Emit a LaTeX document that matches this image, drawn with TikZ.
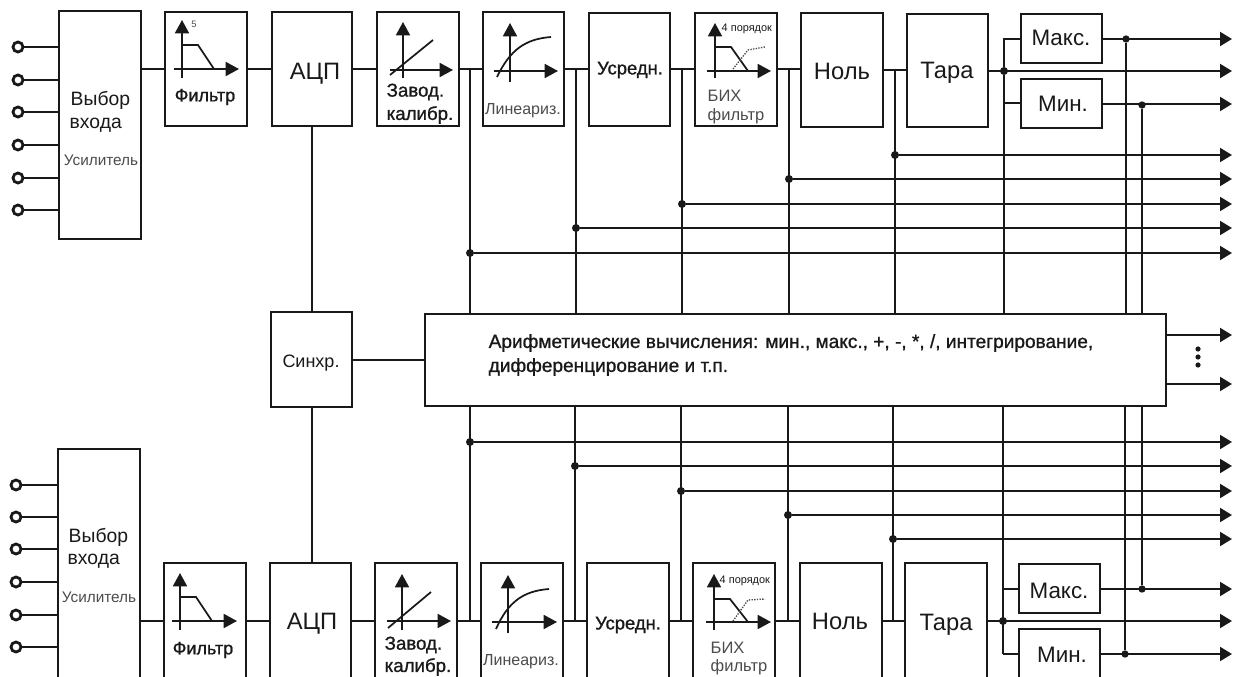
\documentclass[tikz,border=0pt]{standalone}
\usepackage{fontspec}
\setmainfont{Liberation Sans}
\newfontfamily\semib[FakeBold=1]{Liberation Sans}
\usetikzlibrary{arrows.meta,fit,calc}
\newcommand\fs[1]{\fontsize{#1}{#1}\selectfont}
\definecolor{ink}{gray}{0.1}
\definecolor{soft}{gray}{0.3}
\tikzset{
  blk/.style={draw=ink,line width=1.6pt,inner sep=0pt,fill=white},
  wire/.style={draw=ink,line width=1.5pt},
  outarrow/.style={wire,-{Triangle[length=9pt,width=10.5pt]}},
  axisarrow/.style={draw=ink,line width=1.3pt,-{Triangle[length=10pt,width=10.5pt]}},
  curveline/.style={draw=ink,line width=1.3pt},
  dotc/.style={draw=soft,line width=1pt,densely dotted},
  termc/.style={circle,draw=ink,line width=2.1pt,fill=white,minimum size=7.5pt,inner sep=0pt},
  jn/.style={circle,fill=ink,minimum size=6pt,inner sep=0pt},
  lbig/.style={text=ink,font=\fs{17.8}},
  lmid/.style={text=ink,font=\fs{16.8}},
  lsel/.style={text=ink,font=\fs{14.5},anchor=west},
  lgrey/.style={text=soft,font=\fs{11.5}},
  llin/.style={text=soft,font=\fs{12}},
  lbih/.style={text=soft,font=\fs{12.4},anchor=west},
  lord/.style={text=ink,font=\fs{8.2},anchor=west},
  lfil/.style={text=ink,font=\semib\fs{13.5}},
  lcal/.style={text=ink,font=\semib\fs{14}},
  lavg/.style={text=ink,font=\semib\fs{13.8}},
  lari/.style={text=ink,font=\semib\fs{14.3},anchor=west},
}
\begin{document}
\begin{tikzpicture}[x=0.75pt,y=-0.75pt]
\useasboundingbox (0,0) rectangle (1234,677);
% ---------- boxes, top row
\node[blk,fit={(59,11)(141,239)}] (v1) {};
\node[blk,fit={(165,12)(247,126)}] (f1) {};
\node[blk,fit={(272,12)(352,126)}] (a1) {};
\node[blk,fit={(377,12)(459,126)}] (z1) {};
\node[blk,fit={(483,12)(564,126)}] (l1) {};
\node[blk,fit={(589,13)(670,126)}] (u1) {};
\node[blk,fit={(695,13)(777,126)}] (b1) {};
\node[blk,fit={(801,13)(883,127)}] (n1) {};
\node[blk,fit={(907,14)(988,127)}] (t1) {};
\node[blk,fit={(1021,14)(1102,63)}] (mx1) {};
\node[blk,fit={(1021,79)(1102,128)}] (mn1) {};
% ---------- boxes, bottom row
\node[blk,fit={(58,449)(140,679)}] (v2) {};
\node[blk,fit={(164,563)(246,679)}] (f2) {};
\node[blk,fit={(270,563)(351,679)}] (a2) {};
\node[blk,fit={(375,563)(457,679)}] (z2) {};
\node[blk,fit={(481,563)(563,679)}] (l2) {};
\node[blk,fit={(587,563)(669,679)}] (u2) {};
\node[blk,fit={(693,563)(775,679)}] (b2) {};
\node[blk,fit={(800,563)(882,679)}] (n2) {};
\node[blk,fit={(905,563)(987,679)}] (t2) {};
\node[blk,fit={(1019,564)(1100,613)}] (mx2) {};
\node[blk,fit={(1019,629)(1100,679)}] (mn2) {};
% ---------- middle
\node[blk,fit={(271,312)(352,407)}] (s) {};
\node[blk,fit={(425,314)(1166,406)}] (ar) {};
% ---------- input terminals
\foreach \i/\y in {1/47,2/80,3/112,4/145,5/178,6/210}{
  \draw[wire] (18,\y) -- (v1.west |- 18,\y);
  \node[termc] (c1\i) at (18,\y) {};
}
\foreach \i/\y in {1/485,2/517,3/549,4/582,5/615,6/647}{
  \draw[wire] (16,\y) -- (v2.west |- 16,\y);
  \node[termc] (c2\i) at (16,\y) {};
}
% ---------- chains
\draw[wire] (v1.east |- f1.west) -- (f1.west);
\draw[wire] (v2.east |- f2.west) -- (f2.west);
\foreach \p/\q in {f1/a1,a1/z1,z1/l1,l1/u1,u1/b1,b1/n1,n1/t1,f2/a2,a2/z2,z2/l2,l2/u2,u2/b2,b2/n2,n2/t2}
  \draw[wire] (\p.east) -- (\p.east -| \q.west);
% ---------- ADC / sync / arithmetic
\draw[wire] (a1.south) -- (s.north -| a1.south);
\draw[wire] (s.south) -- (a2.north -| s.south);
\draw[wire] (s.east) -- (ar.west |- s.east);
% ---------- free ends on the right
\foreach \n/\y in {a/39,b/71,c/104,d/155,e/179,f/204,g/228,h/253,i/335,j/384,k/442,l/466,m/491,n/515,o/539,p/589,q/621,r/654}
  \coordinate (out\n) at (1232,\y);
% ---------- top taps
\foreach \n/\x/\y/\o in {1/470/253/h,2/576/228/g,3/682/204/f,4/789/179/e,5/895/155/d}{
  \coordinate (tt\n) at (\x,69);
  \draw[wire] (tt\n) -- (ar.north -| tt\n);
  \node[jn] (tj\n) at (\x,\y) {};
  \draw[outarrow] (tj\n) -- (out\o);
}
% ---------- bottom taps
\foreach \n/\x/\y/\o in {1/470/442/k,2/575/466/l,3/681/491/m,4/788/515/n,5/893/539/o}{
  \coordinate (bt\n) at (\x,621);
  \draw[wire] (ar.south -| bt\n) -- (bt\n);
  \node[jn] (bj\n) at (\x,\y) {};
  \draw[outarrow] (bj\n) -- (out\o);
}
% ---------- tara, top
\node[jn] (jt) at (1004,71) {};
\draw[outarrow] (t1.east |- jt) -- (outb);
\draw[wire] (mx1.west |- outa) -| (jt);
\draw[wire] (mn1.west -| jt) -- (mn1.west);
\draw[wire] (jt) -- (ar.north -| jt);
\node[jn,minimum size=5.5pt] (jx1) at (1126,39) {};
\node[jn,minimum size=5.5pt] (jn1) at (1142,105) {};
\draw[outarrow] (mx1.east |- outa) -- (outa);
\draw[outarrow] (mn1.east |- outc) -- (outc);
\draw[wire] (jx1) -- (ar.north -| jx1);
\draw[wire] (jn1) -- (ar.north -| jn1);
% ---------- tara, bottom
\node[jn] (jb) at (1003,621) {};
\draw[outarrow] (t2.east |- outq) -- (outq);
\draw[wire] (mx2.west -| jb) -- (mx2.west);
\draw[wire] (mn2.west -| jb) -- (mn2.west);
\draw[wire] (ar.south -| jb) -- (mn2.west -| jb);
\node[jn,minimum size=5.5pt] (jx2) at (1142,589) {};
\node[jn,minimum size=5.5pt] (jn2) at (1125,654) {};
\draw[outarrow] (mx2.east |- outp) -- (outp);
\draw[outarrow] (mn2.east |- outr) -- (outr);
\draw[wire] (ar.south -| jx2) -- (jx2);
\draw[wire] (ar.south -| jn2) -- (jn2);
% ---------- arithmetic outputs
\draw[outarrow] (ar.east |- outi) -- (outi);
\draw[outarrow] (ar.east |- outj) -- (outj);
\foreach \y in {349,357,365} \fill[ink] (1198,\y) circle (2.6);
% ---------- icons, top
\draw[axisarrow] (182,78) -- (182,20);
\draw[axisarrow] (174,69) -- (239,69);
\draw[curveline] (182,45) -- (198,45) -- (214,69);
\draw[axisarrow] (403,78) -- (403,22);
\draw[axisarrow] (390,70) -- (453,70);
\draw[curveline] (390,75) -- (433,40);
\draw[axisarrow] (510,82) -- (510,23);
\draw[axisarrow] (494,71) -- (558,71);
\draw[curveline] (497,77) .. controls (510,50) and (525,39) .. (551,37);
\draw[axisarrow] (715,78) -- (715,23);
\draw[axisarrow] (707,71) -- (771,71);
\draw[curveline] (715,47) -- (731,47) -- (748,71);
\draw[dotc] (733,69) -- (748,50) -- (765,47);
% ---------- icons, bottom
\draw[axisarrow] (180,630) -- (180,573);
\draw[axisarrow] (172,621) -- (237,621);
\draw[curveline] (180,597) -- (196,597) -- (212,621);
\draw[axisarrow] (402,630) -- (402,574);
\draw[axisarrow] (387,621) -- (451,621);
\draw[curveline] (388,628) -- (431,592);
\draw[axisarrow] (508,633) -- (508,575);
\draw[axisarrow] (492,622) -- (557,622);
\draw[curveline] (496,629) .. controls (508,602) and (523,591) .. (549,589);
\draw[axisarrow] (714,630) -- (714,574);
\draw[axisarrow] (706,622) -- (771,622);
\draw[curveline] (714,599) -- (730,599) -- (748,622);
\draw[dotc] (733,621) -- (748,600) -- (765,599);
% ---------- labels, top
\node[lsel] (tv1a) at (66,100) {Выбор};
\node[lsel] (tv1b) at (65,125) {входа};
\node[lgrey] (tv1c) at (101,160) {Усилитель};
\node[font=\fs{7},text=soft] (tf1a) at (194,24) {5};
\node[lfil] (tf1) at (205,97) {Фильтр};
\node[lbig] (ta1) at (315,74) {АЦП};
\node[lcal,anchor=west] (tz1a) at (382,92) {Завод.};
\node[lcal,anchor=west] (tz1b) at (382,115) {калибр.};
\node[llin] (tl1) at (523,111) {Линеариз.};
\node[lavg] (tu1) at (630,70) {Усредн.};
\node[lord] (tb1a) at (717,29) {4 порядок};
\node[lbih] (tb1b) at (703,96) {БИХ};
\node[lbih] (tb1c) at (703,116) {фильтр};
\node[lbig] (tn1) at (842,71) {Ноль};
\node[lbig] (tt1) at (947,73) {Тара};
\node[lmid] (tx1) at (1061,38) {Макс.};
\node[lmid] (ty1) at (1063,104) {Мин.};
% ---------- labels, middle
\node[text=ink,font=\fs{13.5}] (ts) at (311,363) {Синхр.};
\node[lari] (tr1) at (484,343) {Арифметические вычисления: мин., макс., +, -, *, /, интегрирование,};
\node[lari] (tr2) at (484,367) {дифференцирование и т.п.};
% ---------- labels, bottom
\node[lsel] (tv2a) at (64,537) {Выбор};
\node[lsel] (tv2b) at (63,561) {входа};
\node[lgrey] (tv2c) at (99,597) {Усилитель};
\node[lfil] (tf2) at (203,650) {Фильтр};
\node[lbig] (ta2) at (312,624) {АЦП};
\node[lcal,anchor=west] (tz2a) at (380,645) {Завод.};
\node[lcal,anchor=west] (tz2b) at (380,667) {калибр.};
\node[llin] (tl2) at (521,662) {Линеариз.};
\node[lavg] (tu2) at (628,625) {Усредн.};
\node[lord] (tb2a) at (715,581) {4 порядок};
\node[lbih] (tb2b) at (706,648) {БИХ};
\node[lbih] (tb2c) at (706,667) {фильтр};
\node[lbig] (tn2) at (840,621) {Ноль};
\node[lbig] (tt2) at (946,625) {Тара};
\node[lmid] (tx2) at (1059,591) {Макс.};
\node[lmid] (ty2) at (1062,655) {Мин.};
\end{tikzpicture}
\end{document}
